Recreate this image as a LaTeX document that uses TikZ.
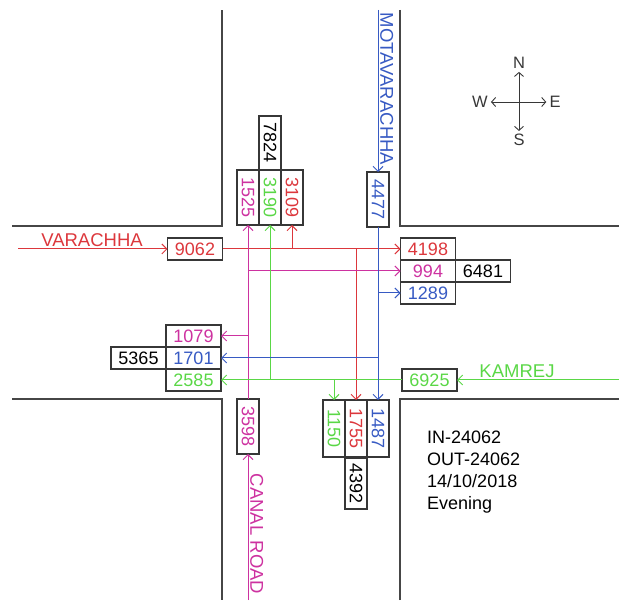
\documentclass[tikz,border=0pt]{standalone}
\usepackage{fontspec}
\setmainfont{Liberation Sans}
\usetikzlibrary{arrows.meta, positioning}
\definecolor{flowred}{RGB}{220, 55, 60}
\definecolor{flowpink}{RGB}{205, 50, 160}
\definecolor{flowgreen}{RGB}{90, 215, 70}
\definecolor{flowblue}{RGB}{55, 90, 195}
\definecolor{roadgray}{RGB}{70, 70, 70}
\definecolor{boxgray}{RGB}{55, 55, 55}

\tikzset{
  box/.style={draw=boxgray, line width=1.1pt, minimum width=55pt, minimum height=22pt,
    inner sep=0pt, outer sep=0pt, font=\fontsize{18}{20}\selectfont},
  vbox/.style={box, rotate=-90},
  flow/.style={line width=1pt, -{Straight Barb[length=5pt,width=10pt]}},
  road/.style={draw=roadgray, line width=1.3pt},
  roadname/.style={font=\fontsize{18.5}{20}\selectfont, inner sep=1pt},
  compass/.style={font=\fontsize{16.5}{18}\selectfont, text=boxgray, inner sep=3pt},
}

\begin{document}
\begin{tikzpicture}[x=1pt, y=-1pt]
  \useasboundingbox (0,0) rectangle (619,612);

  % Road edges
  \draw[road] (12,226) -- (222,226) -- (222,10);
  \draw[road] (400,10) -- (400,226) -- (619,226);
  \draw[road] (12,399) -- (222,399) -- (222,600);
  \draw[road] (400,600) -- (400,399) -- (619,399);

  % West approach and east exit
  \node[box, text=flowred] (b9062) at (195,249) {9062};
  \node[box, text=flowred] (b4198) at (428,249) {4198};
  \node[box, text=flowpink, below=0pt of b4198] (b994) {994};
  \node[box, text=flowblue, below=0pt of b994] (b1289) {1289};
  \node[box, right=0pt of b994] (b6481) {6481};

  % East approach and west exit
  \node[box, text=flowgreen] (b6925) at (429.5,380) {6925};
  \node[box, text=flowpink] (b1079) at (193.5,336) {1079};
  \node[box, text=flowblue, below=0pt of b1079] (b1701) {1701};
  \node[box, text=flowgreen, below=0pt of b1701] (b2585) {2585};
  \node[box, left=0pt of b1701] (b5365) {5365};

  % North approach and north exit
  \node[vbox, text=flowblue] (b4477) at (378,199.5) {4477};
  \node[vbox, text=flowpink] (b1525) at (248,197.5) {1525};
  \node[vbox, text=flowgreen] (b3190) at (270,197.5) {3190};
  \node[vbox, text=flowred] (b3109) at (292,197.5) {3109};
  \node[vbox, minimum width=54pt] (b7824) at (270,143) {7824};

  % South approach and south exit
  \node[vbox, text=flowpink] (b3598) at (248,426.5) {3598};
  \node[vbox, text=flowgreen, minimum width=57pt] (b1150) at (334,428.5) {1150};
  \node[vbox, text=flowred, minimum width=57pt] (b1755) at (356,428.5) {1755};
  \node[vbox, text=flowblue, minimum width=57pt] (b1487) at (378,428.5) {1487};
  \node[vbox, minimum width=51pt] (b4392) at (356,483.5) {4392};

  % Road names
  \coordinate (varachhaW) at (18,249);
  \coordinate (kamrejE) at (619,380);
  \coordinate (motaN) at (378,10);
  \coordinate (canalS) at (248,600);
  \node[roadname, text=flowred, anchor=south] (nVarachha) at (92,248) {VARACHHA};
  \node[roadname, text=flowgreen, anchor=south] (nKamrej) at (517,379) {KAMREJ};
  \node[roadname, text=flowblue, rotate=-90, anchor=south] (nMota) at (379,89) {MOTAVARACHHA};
  \node[roadname, text=flowpink, rotate=-90, anchor=south] (nCanal) at (249,534) {CANAL ROAD};

  % Red flows (from Varachha)
  \draw[flow, flowred] (varachhaW) -- (b9062.west);
  \draw[flow, flowred] (b9062.east) -- (b4198.west);
  \draw[flow, flowred] (b3109 |- b9062) -- (b3109.east);
  \draw[flow, flowred] (b1755 |- b9062) -- (b1755.west);

  % Pink flows (from Canal Road)
  \draw[flow, flowpink] (canalS) -- (b3598.east);
  \draw[flow, flowpink] (b3598.west) -- (b1525.east);
  \draw[flow, flowpink] (b1525 |- b994) -- (b994.west);
  \draw[flow, flowpink] (b1525 |- b1079) -- (b1079.east);

  % Green flows (from Kamrej)
  \draw[flow, flowgreen] (kamrejE) -- (b6925.east);
  \draw[flow, flowgreen] (b6925.west) -- (b2585.east);
  \draw[flow, flowgreen] (b3190 |- b6925) -- (b3190.east);
  \draw[flow, flowgreen] (b1150 |- b6925) -- (b1150.west);

  % Blue flows (from Motavarachha)
  \draw[flow, flowblue] (motaN) -- (b4477.west);
  \draw[flow, flowblue] (b4477.east) -- (b1487.west);
  \draw[flow, flowblue] (b4477 |- b1289) -- (b1289.west);
  \draw[flow, flowblue] (b4477 |- b1701) -- (b1701.east);

  % Compass
  \node[compass] (cN) at (519,63) {N};
  \node[compass] (cS) at (519,140) {S};
  \node[compass] (cW) at (480,102) {W};
  \node[compass] (cE) at (555,102) {E};
  \draw[boxgray, line width=0.9pt, {Straight Barb[length=4pt,width=9pt]}-{Straight Barb[length=4pt,width=9pt]}] (cN) -- (cS);
  \draw[boxgray, line width=0.9pt, {Straight Barb[length=4pt,width=9pt]}-{Straight Barb[length=4pt,width=9pt]}] (cW) -- (cE);

  % Totals
  \node[anchor=north west, align=left, inner sep=0pt, text=black,
    font=\fontsize{18}{22}\selectfont] (info) at (427,431)
    {IN-24062\\OUT-24062\\14/10/2018\\Evening};
\end{tikzpicture}
\end{document}
